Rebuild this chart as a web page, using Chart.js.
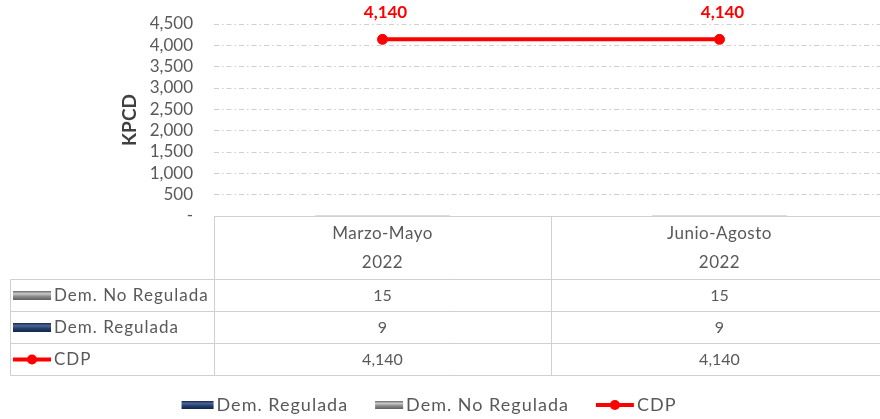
<!DOCTYPE html>
<html>
<head>
<meta charset="utf-8">
<script src="https://cdn.jsdelivr.net/npm/chart.js@4.4.1/dist/chart.umd.min.js"></script>
<style>
    html, body { margin: 0; padding: 0; background: #fff; overflow: hidden; }
    #kpcdChart { display: block; }
</style>
</head>
<body>
<canvas id="kpcdChart" width="888" height="419"></canvas>
<script>
// Datos del gráfico
const categorias = [['Marzo-Mayo', '2022'], ['Junio-Agosto', '2022']];
const demRegulada = [9, 9];
const demNoRegulada = [15, 15];
const cdp = [4140, 4140];
const yMax = 4500;
const yStep = 500;

const FONT = 'Lato, "Open Sans", sans-serif';
const TXT = '#595959';
const LINEA = '#d0d0d0';
const NAVY = '#1f3864';
const GRIS = '#7f7f7f';
const ROJO = '#ff0000';

const fmt = v => v.toLocaleString('en-US');

// Iconos de la leyenda (barra con bisel o línea con punto)
function drawKey(ctx, tipo, color, x, y, w, h) {
    if (tipo === 'line') {
        ctx.strokeStyle = color;
        ctx.lineWidth = 4;
        ctx.beginPath();
        ctx.moveTo(x, y);
        ctx.lineTo(x + w, y);
        ctx.stroke();
        ctx.fillStyle = color;
        ctx.beginPath();
        ctx.arc(x + w / 2, y, 5, 0, Math.PI * 2);
        ctx.fill();
        return;
    }
    const g = ctx.createLinearGradient(0, y - h / 2, 0, y + h / 2);
    if (color === NAVY) {
        g.addColorStop(0, '#16284a'); g.addColorStop(0.3, '#4a6596');
        g.addColorStop(0.6, '#22406f'); g.addColorStop(1, '#142544');
    } else {
        g.addColorStop(0, '#6a6a6a'); g.addColorStop(0.3, '#c8c8c8');
        g.addColorStop(0.6, '#8c8c8c'); g.addColorStop(1, '#5e5e5e');
    }
    ctx.fillStyle = g;
    ctx.fillRect(x, y - h / 2, w, h);
}

// Tabla de datos debajo del gráfico
const tablaPlugin = {
    id: 'tabla',
    afterDraw(chart) {
        const ctx = chart.ctx;
        const area = chart.chartArea;
        const xs = chart.scales.x;
        const half = (xs.getPixelForValue(1) - xs.getPixelForValue(0)) / 2;
        const top = Math.round(area.bottom) + 0.5;
        const headH = 63, rowH = 32;
        const left = 10.5;
        const filas = [
            { label: 'Dem. No Regulada', tipo: 'bar', color: GRIS, data: demNoRegulada },
            { label: 'Dem. Regulada', tipo: 'bar', color: NAVY, data: demRegulada },
            { label: 'CDP', tipo: 'line', color: ROJO, data: cdp }
        ];
        const bottom = top + headH + rowH * filas.length;

        ctx.save();
        ctx.strokeStyle = LINEA;
        ctx.lineWidth = 1;
        ctx.beginPath();
        // horizontales
        ctx.moveTo(area.left, top); ctx.lineTo(area.right, top);
        for (let i = 0; i <= filas.length; i++) {
            const y = top + headH + rowH * i;
            ctx.moveTo(left, y); ctx.lineTo(area.right, y);
        }
        // verticales
        ctx.moveTo(left, top + headH); ctx.lineTo(left, bottom);
        categorias.forEach((c, i) => {
            const x = Math.round(xs.getPixelForValue(i) - half) + 0.5;
            ctx.moveTo(x, top); ctx.lineTo(x, bottom);
        });
        const xr = Math.round(area.right) - 0.5;
        ctx.moveTo(xr, top); ctx.lineTo(xr, bottom);
        ctx.stroke();

        ctx.fillStyle = TXT;
        ctx.font = `17px ${FONT}`;
        ctx.letterSpacing = '0.5px';
        ctx.textAlign = 'center';
        ctx.textBaseline = 'middle';
        categorias.forEach((c, i) => {
            const x = xs.getPixelForValue(i);
            ctx.fillText(c[0], x, top + 17);
            ctx.fillText(c[1], x, top + 46);
        });
        filas.forEach((f, r) => {
            const yc = top + headH + rowH * r + rowH / 2;
            drawKey(ctx, f.tipo, f.color, 13, yc, 38, 9);
            ctx.fillStyle = TXT;
            ctx.font = `17px ${FONT}`;
            ctx.letterSpacing = '1px';
            ctx.textAlign = 'left';
            ctx.fillText(f.label, 54, yc);
            ctx.letterSpacing = '0px';
            ctx.font = `16px ${FONT}`;
            ctx.textAlign = 'center';
            f.data.forEach((v, i) => ctx.fillText(fmt(v), xs.getPixelForValue(i), yc));
        });

        // leyenda inferior
        const items = [
            { label: 'Dem. Regulada', tipo: 'bar', color: NAVY, w: 32 },
            { label: 'Dem. No Regulada', tipo: 'bar', color: GRIS, w: 28 },
            { label: 'CDP', tipo: 'line', color: ROJO, w: 38 }
        ];
        ctx.font = `18px ${FONT}`;
        ctx.letterSpacing = '1px';
        const gap = 27;
        const anchos = items.map(it => it.w + 3 + ctx.measureText(it.label).width);
        const total = anchos.reduce((a, b) => a + b, 0) + gap * (items.length - 1);
        let x = 429 - total / 2;
        const ly = 405;
        items.forEach((it, i) => {
            drawKey(ctx, it.tipo, it.color, x, ly, it.w, 8);
            ctx.fillStyle = TXT;
            ctx.textAlign = 'left';
            ctx.fillText(it.label, x + it.w + 3, ly);
            x += anchos[i] + gap;
        });
        ctx.restore();
    }
};

// Etiquetas de valor sobre la línea CDP
const etiquetasPlugin = {
    id: 'etiquetas',
    afterDatasetsDraw(chart) {
        const ctx = chart.ctx;
        const meta = chart.getDatasetMeta(2);
        ctx.save();
        ctx.fillStyle = ROJO;
        ctx.font = `bold 17px ${FONT}`;
        ctx.textAlign = 'center';
        ctx.textBaseline = 'middle';
        meta.data.forEach((pt, i) => ctx.fillText(fmt(cdp[i]), pt.x + 3, pt.y - 27));
        ctx.restore();
    }
};

const ctx = document.getElementById('kpcdChart').getContext('2d');
new Chart(ctx, {
    type: 'bar',
    data: {
        labels: categorias.map(c => c.join(' ')),
        datasets: [{
            label: 'Dem. Regulada',
            data: demRegulada,
            backgroundColor: NAVY,
            borderColor: '#404040',
            borderWidth: { top: 1 },
            stack: 'dem',
            order: 2
        }, {
            label: 'Dem. No Regulada',
            data: demNoRegulada,
            backgroundColor: GRIS,
            borderColor: '#595959',
            borderWidth: { top: 1 },
            stack: 'dem',
            order: 2
        }, {
            type: 'line',
            label: 'CDP',
            data: cdp,
            borderColor: ROJO,
            backgroundColor: ROJO,
            borderWidth: 4,
            pointBorderWidth: 1,
            pointRadius: 5,
            pointHoverRadius: 5,
            stack: 'cdp',
            order: 1
        }]
    },
    options: {
        responsive: false,
        animation: false,
        layout: { autoPadding: false, padding: { left: 118, top: 24, right: 0, bottom: 203 } },
        datasets: { bar: { categoryPercentage: 1, barPercentage: 0.4 } },
        plugins: { legend: { display: false }, tooltip: { enabled: false } },
        scales: {
            x: { display: false, stacked: true },
            y: {
                stacked: true,
                min: 0,
                max: yMax,
                afterFit: s => { s.width = 96; s.paddingTop = 0; s.paddingBottom = 0; },
                ticks: {
                    stepSize: yStep,
                    autoSkip: false,
                    padding: 21,
                    color: TXT,
                    font: { family: FONT, size: 17, lineHeight: 1 },
                    callback: v => v === 0 ? '-' : fmt(v)
                },
                grid: {
                    drawTicks: false,
                    color: c => c.tick && c.tick.value === 0 ? 'rgba(0,0,0,0)' : '#cfcfcf'
                },
                border: { display: false, dash: [5, 3, 1.5, 3] },
                title: {
                    display: true,
                    text: 'KPCD',
                    color: '#404040',
                    font: { family: FONT, size: 19, weight: 'bold' },
                    padding: { top: 0, bottom: 0 }
                }
            }
        }
    },
    plugins: [tablaPlugin, etiquetasPlugin]
});
</script>
</body>
</html>
